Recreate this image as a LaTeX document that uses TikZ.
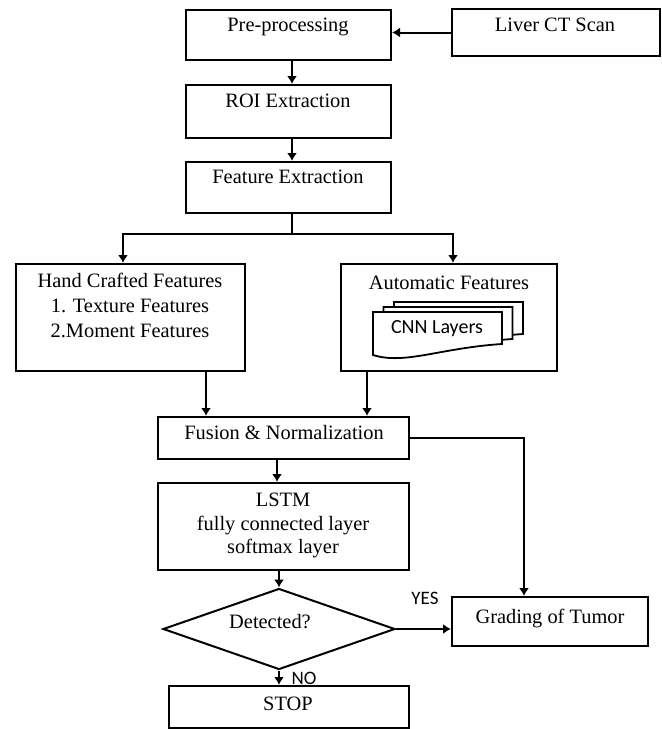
\documentclass[tikz,border=0pt]{standalone}
\usepackage{fontspec}
\setmainfont{Liberation Serif}
\newfontfamily\carlito{Carlito}
\usepackage{tikz}
\usetikzlibrary{shapes.geometric, arrows.meta, fit, calc}
\tikzstyle{arrow} = [line width=1pt,->,>={Latex[length=4pt,width=5pt]}]
\tikzstyle{box} = [draw, line width=1pt, inner sep=0pt]
\tikzstyle{txt} = [anchor=base, inner sep=0pt, align=center, font=\fontsize{10.2pt}{12pt}\selectfont]
\tikzstyle{tag} = [anchor=base, inner sep=0pt, font=\carlito\fontsize{9.5pt}{11pt}\selectfont]

\begin{document}
\begin{tikzpicture}[x=0.5pt,y=-0.5pt]
\useasboundingbox (0,0) rectangle (661,729);

%boxes, corners in pixels
\node[box, fit={(452,9) (660,56)}] (scan) {};
\node[box, fit={(186,10) (391,60)}] (pre) {};
\node[box, fit={(186,85) (391,138)}] (roi) {};
\node[box, fit={(186,162) (391,213)}] (feat) {};
\node[box, fit={(16,264) (245,371)}] (hand) {};
\node[box, fit={(341,264) (557,371)}] (auto) {};
\node[box, fit={(158,417) (409,459)}] (fuse) {};
\node[box, fit={(158,483) (409,570)}] (lstm) {};
\node[box, fit={(452,597) (648,646)}] (grade) {};
\node[box, fit={(169,686) (409,728)}] (stop) {};
\node[draw, diamond, line width=1pt, minimum width=116pt, minimum height=40.5pt, inner sep=0pt] (det) at (279,629) {};

%cnn pages, back to front
\foreach \i in {2,1,0}
{
\draw[line width=0.9pt, fill=white, shift={(10.5*\i,-5*\i)}] (373,312) -- (502,312) -- (502,344) .. controls (440,348) and (405,365) .. (373,355) -- cycle;
}

%texts
\node[txt] (scan-t) at (555,31) {Liver CT Scan};
\node[txt] (pre-t) at (288,31) {Pre-processing};
\node[txt] (roi-t) at (288,107) {ROI Extraction};
\node[txt] (feat-t) at (288,183) {Feature Extraction};
\node[txt, anchor=north, font=\fontsize{10.2pt}{12.5pt}\selectfont] (hand-t) at (130,273) {Hand Crafted Features\\1. Texture Features\\2.Moment Features};
\node[txt] (auto-t) at (449,289) {Automatic Features};
\node[tag, font=\carlito\fontsize{10pt}{12pt}\selectfont] (cnn-t) at (437,333) {CNN Layers};
\node[txt] (fuse-t) at (284,439) {Fusion \& Normalization};
\node[txt, anchor=north, font=\fontsize{10.2pt}{11.75pt}\selectfont] (lstm-t) at (283,493) {LSTM\\fully connected layer\\softmax layer};
\node[txt] (det-t) at (270,628) {Detected?};
\node[txt] (grade-t) at (550,623) {Grading of Tumor};
\node[txt] (stop-t) at (288,710) {STOP};
\node[tag] (yes) at (425,604) {YES};
\node[tag] (no) at (304,684) {NO};

%connectors
\coordinate (sl) at (123,234);
\coordinate (sr) at (453,234);
\draw[arrow] (scan.west) -- (scan.west -| pre.east);
\draw[arrow] ([xshift=1.75pt]pre.south) -- ([xshift=1.75pt]roi.north);
\draw[arrow] ([xshift=1.75pt]roi.south) -- ([xshift=1.75pt]feat.north);
\draw[arrow] ([xshift=1.75pt]feat.south) coordinate (f0) -- (f0 |- sl) -| (sl |- hand.north);
\draw[arrow] (f0 |- sr) -| (sr |- auto.north);
\draw[arrow] ($(hand.south)+(75.5,0)$) coordinate (h1) -- (h1 |- fuse.north);
\draw[arrow] ($(auto.south)+(-82,0)$) coordinate (a1) -- (a1 |- fuse.north);
\draw[arrow] ($(fuse.south)+(-6.5,0)$) coordinate (f1) -- (f1 |- lstm.north);
\draw[arrow] (fuse.east) -| ($(grade.north)+(-26,0)$);
\draw[arrow] (lstm.south -| det.north) -- (det.north);
\draw[arrow] (det.east) -- (det.east -| grade.west);
\draw[arrow] (det.south) -- (det.south |- stop.north);

\end{tikzpicture}
\end{document}
